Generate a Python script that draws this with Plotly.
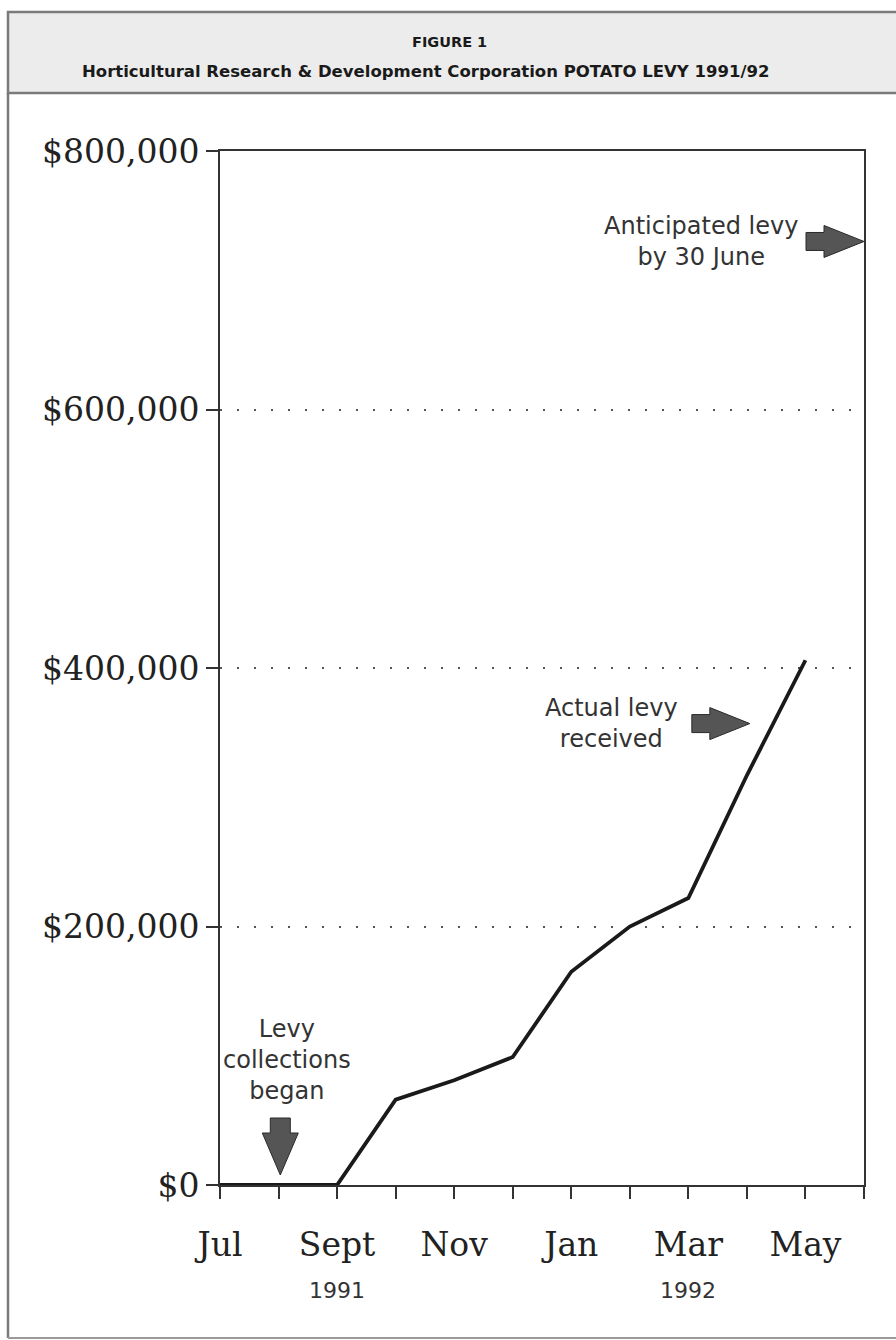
import plotly.graph_objects as go

# Levy year runs July 1991 to June 1992
months = ["Jul", "Aug", "Sept", "Oct", "Nov", "Dec",
          "Jan", "Feb", "Mar", "Apr", "May", "Jun"]
labelled_months = ["Jul", "Sept", "Nov", "Jan", "Mar", "May"]
year_labels = {"Sept": "1991", "Mar": "1992"}

# Cumulative levy received, month by month (Jul 1991 - May 1992)
received_months = months[:11]
levy_received = [0, 0, 0, 66000, 81000, 99000, 165000, 200000, 222000, 317000, 406000]

# Expected total by 30 June
anticipated_levy = 730000

y_ticks = [0, 200000, 400000, 600000, 800000]
y_tick_text = ["$0", "$200,000", "$400,000", "$600,000", "$800,000"]

W, H = 896, 1340
ML, MR, MT, MB = 220, 32, 151, 155
PW, PH = W - ML - MR, H - MT - MB

def paper_x(px):
    return (px - ML) / PW

def paper_y(py):
    return (H - MB - py) / PH

x_pos = {m: i for i, m in enumerate(months)}
x_vals = [x_pos[m] for m in received_months]

ARROW_FILL = "#555555"
ARROW_LINE = "#2a2a2a"
TEXT_COLOR = "#333333"
SANS = "DejaVu Sans"
SERIF = "DejaVu Serif"

fig = go.Figure()
fig.add_trace(go.Scatter(
    x=x_vals, y=levy_received, mode="lines",
    line=dict(color="#1a1a1a", width=3.8),
    hoverinfo="skip", showlegend=False,
))

# Block arrows, drawn in pixel offsets from a data-space tip
RIGHT_ARROW = "M 0,0 L -40,16 L -40,9 L -58,9 L -58,-9 L -40,-9 L -40,-16 Z"
DOWN_ARROW = "M 0,0 L -18,42 L -10,42 L -10,57 L 10,57 L 10,42 L 18,42 Z"

def block_arrow(path, x, y, dy=0):
    if dy:
        # lift the whole path by dy pixels
        out = []
        for p in path.split(" "):
            if "," in p:
                a, b = p.split(",")
                out.append(f"{a},{float(b) + dy:g}")
            else:
                out.append(p)
        path = " ".join(out)
    return dict(type="path", path=path, xref="x", yref="y",
                xsizemode="pixel", ysizemode="pixel",
                xanchor=x, yanchor=y,
                fillcolor=ARROW_FILL, line=dict(color=ARROW_LINE, width=1),
                layer="above")

shapes = [
    # page frame and header band
    dict(type="rect", xref="paper", yref="paper",
         x0=paper_x(8), x1=paper_x(W + 4), y0=paper_y(93), y1=paper_y(12),
         fillcolor="#ececec", line=dict(color="#7a7a7a", width=2.5), layer="below"),
    dict(type="line", xref="paper", yref="paper",
         x0=paper_x(8), x1=paper_x(8), y0=paper_y(93), y1=paper_y(1338),
         line=dict(color="#7a7a7a", width=2.5)),
    dict(type="line", xref="paper", yref="paper",
         x0=paper_x(8), x1=paper_x(W + 4), y0=paper_y(1338), y1=paper_y(1338),
         line=dict(color="#9a9a9a", width=2)),
    block_arrow(RIGHT_ARROW, x_pos["Jun"], anticipated_levy),
    block_arrow(RIGHT_ARROW, 9.05, 357000),
    block_arrow(DOWN_ARROW, 1.03, 0, dy=10),
]

annotations = [
    dict(text="FIGURE 1", xref="paper", yref="paper",
         x=paper_x(449), y=paper_y(42), xanchor="center", yanchor="middle",
         showarrow=False,
         font=dict(family=SANS, size=14.5, color="#1a1a1a", weight="bold")),
    dict(text="Horticultural Research & Development Corporation POTATO LEVY 1991/92",
         xref="paper", yref="paper", x=paper_x(425), y=paper_y(71),
         xanchor="center", yanchor="middle", showarrow=False,
         font=dict(family=SANS, size=16.5, color="#1a1a1a", weight="bold")),
    dict(text="Anticipated levy<br>by 30 June", x=x_pos["Jun"], y=anticipated_levy,
         xref="x", yref="y", xanchor="right", yanchor="middle", xshift=-64,
         showarrow=False, align="center",
         font=dict(family=SANS, size=24, color=TEXT_COLOR)),
    dict(text="Actual levy<br>received", x=9.05, y=357000,
         xref="x", yref="y", xanchor="right", yanchor="middle", xshift=-70,
         showarrow=False, align="center",
         font=dict(family=SANS, size=24, color=TEXT_COLOR)),
    dict(text="Levy<br>collections<br>began", x=1.03, y=0,
         xref="x", yref="y", xanchor="center", yanchor="bottom",
         xshift=7, yshift=78, showarrow=False, align="center",
         font=dict(family=SANS, size=24, color=TEXT_COLOR)),
]
for m, yr in year_labels.items():
    annotations.append(dict(
        text=yr, x=x_pos[m], y=paper_y(1290), xref="x", yref="paper",
        xanchor="center", yanchor="middle",
        showarrow=False, font=dict(family=SANS, size=22, color=TEXT_COLOR)))

fig.update_layout(
    width=W, height=H,
    margin=dict(l=ML, r=MR, t=MT, b=MB, pad=0),
    paper_bgcolor="white", plot_bgcolor="white",
    shapes=shapes, annotations=annotations,
    xaxis=dict(
        range=[0, len(months) - 1],
        tickmode="array", tickvals=list(range(len(months))),
        ticktext=[m if m in labelled_months else "" for m in months],
        ticks="outside", ticklen=12, tickwidth=2, tickcolor="#333",
        showline=True, linecolor="#333", linewidth=2, mirror=True,
        showgrid=False, zeroline=False, ticklabelstandoff=17,
        tickfont=dict(family=SERIF, size=33, color="#222"),
        fixedrange=True,
    ),
    yaxis=dict(
        range=[0, 800000],
        tickmode="array", tickvals=y_ticks, ticktext=y_tick_text,
        ticks="outside", ticklen=12, tickwidth=2, tickcolor="#333",
        showline=True, linecolor="#333", linewidth=2, mirror=True,
        showgrid=True, gridcolor="#555", gridwidth=2, griddash="2px,15px",
        zeroline=False, ticklabelstandoff=0,
        tickfont=dict(family=SERIF, size=33, color="#222"),
        fixedrange=True,
    ),
)

fig.write_html("out.html")
